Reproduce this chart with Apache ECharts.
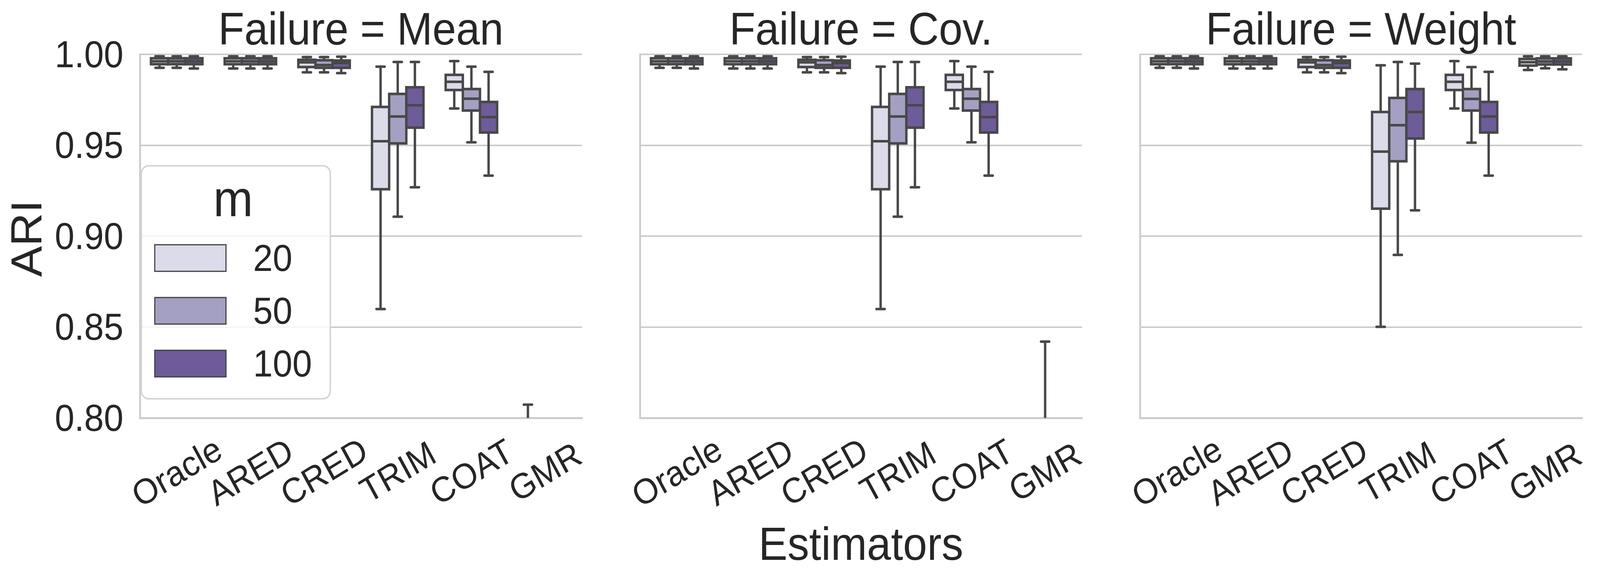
<!DOCTYPE html>
<html>
<head>
<meta charset="utf-8">
<script src="https://cdn.jsdelivr.net/npm/echarts@6.0.0/dist/echarts.min.js"></script>
<style>
  html, body { margin: 0; padding: 0; background: #ffffff; overflow: hidden; }
  #chart { position: absolute; left: 0; top: 0; width: 4358px; height: 1481px; transform-origin: 0 0; }
</style>
</head>
<body>
<div id="chart"></div>
<script>
// ---------------- data ----------------
const estimators = ['Oracle', 'ARED', 'CRED', 'TRIM', 'COAT', 'GMR'];
const mLevels = ['20', '50', '100'];
const failureTypes = ['Mean', 'Cov.', 'Weight'];
const yTickValues = [0.80, 0.85, 0.90, 0.95, 1.00];

// box statistics per estimator: [low whisker, Q1, median, Q3, high whisker]
// null = below the visible range (0.80); whole null = box not visible
const mean_m20 = [
  [0.9926, 0.99456, 0.9962, 0.99785, 0.9989],
  [0.9922, 0.99456, 0.9962, 0.99785, 0.9989],
  [0.9901, 0.9930, 0.9956, 0.9970, 0.9985],
  [0.8599, 0.9258, 0.9522, 0.9711, 0.9932],
  [0.9702, 0.9804, 0.9849, 0.9887, 0.9963],
  [null, null, null, null, 0.8073]
];
const mean_m50 = [
  [0.9926, 0.99456, 0.9962, 0.99785, 0.9989],
  [0.9922, 0.99456, 0.9962, 0.99785, 0.9989],
  [0.9901, 0.9926, 0.9941, 0.9968, 0.9985],
  [0.9107, 0.9510, 0.9658, 0.9782, 0.9958],
  [0.9516, 0.9691, 0.9756, 0.9809, 0.9932],
  null
];
const mean_m100 = [
  [0.9922, 0.99456, 0.9962, 0.99785, 0.9989],
  [0.9922, 0.99456, 0.9962, 0.99785, 0.9989],
  [0.9897, 0.9926, 0.9952, 0.9966, 0.9987],
  [0.9269, 0.9597, 0.9720, 0.9819, 0.9958],
  [0.9333, 0.9570, 0.9655, 0.9738, 0.9904],
  null
];
const cov_m20 = [
  [0.9926, 0.99456, 0.9962, 0.99785, 0.9989],
  [0.9922, 0.99456, 0.9962, 0.99785, 0.9989],
  [0.9901, 0.9930, 0.9956, 0.9970, 0.9985],
  [0.8599, 0.9258, 0.9522, 0.9711, 0.9932],
  [0.9702, 0.9804, 0.9849, 0.9887, 0.9963],
  null
];
const cov_m50 = [
  [0.9926, 0.99456, 0.9962, 0.99785, 0.9989],
  [0.9922, 0.99456, 0.9962, 0.99785, 0.9989],
  [0.9901, 0.9926, 0.9941, 0.9968, 0.9985],
  [0.9107, 0.9510, 0.9658, 0.9782, 0.9958],
  [0.9516, 0.9691, 0.9756, 0.9809, 0.9932],
  [null, null, null, null, 0.8420]
];
const cov_m100 = [
  [0.9922, 0.99456, 0.9962, 0.99785, 0.9989],
  [0.9922, 0.99456, 0.9962, 0.99785, 0.9989],
  [0.9897, 0.9926, 0.9952, 0.9966, 0.9987],
  [0.9269, 0.9597, 0.9720, 0.9819, 0.9958],
  [0.9333, 0.9570, 0.9655, 0.9738, 0.9904],
  null
];
const weight_m20 = [
  [0.9926, 0.99456, 0.9962, 0.99785, 0.9989],
  [0.9922, 0.99456, 0.9962, 0.99785, 0.9989],
  [0.9901, 0.9930, 0.9956, 0.9970, 0.9985],
  [0.8501, 0.9151, 0.9465, 0.9683, 0.9940],
  [0.9702, 0.9804, 0.9849, 0.9887, 0.9963],
  [0.9914, 0.9938, 0.9957, 0.9975, 0.9989]
];
const weight_m50 = [
  [0.9926, 0.99456, 0.9962, 0.99785, 0.9989],
  [0.9922, 0.99456, 0.9962, 0.99785, 0.9989],
  [0.9901, 0.9926, 0.9941, 0.9968, 0.9985],
  [0.8897, 0.9412, 0.9610, 0.9760, 0.9958],
  [0.9514, 0.9691, 0.9755, 0.9809, 0.9930],
  [0.9923, 0.9944, 0.9961, 0.9978, 0.9989]
];
const weight_m100 = [
  [0.9922, 0.99456, 0.9962, 0.99785, 0.9989],
  [0.9922, 0.99456, 0.9962, 0.99785, 0.9989],
  [0.9897, 0.9926, 0.9952, 0.9966, 0.9987],
  [0.9142, 0.9537, 0.9683, 0.9809, 0.9949],
  [0.9333, 0.9570, 0.9658, 0.9738, 0.9904],
  [0.9918, 0.9944, 0.9961, 0.9978, 0.9989]
];
const panelStats = [
  [mean_m20, mean_m50, mean_m100],
  [cov_m20, cov_m50, cov_m100],
  [weight_m20, weight_m50, weight_m100]
];

// ---------------- layout: drawn at 4358 x 1481, fitted to the actual viewport ----------------
const BASE_W = 4358, BASE_H = 1481;
const VW = window.innerWidth || BASE_W;
const VH = window.innerHeight || BASE_H;
const el = document.getElementById('chart');
if (VW !== BASE_W || VH !== BASE_H) {
  el.style.transform = 'scale(' + (VW / BASE_W) + ',' + (VH / BASE_H) + ')';
}

const FONT = "'Liberation Sans', Arial, Helvetica, sans-serif";
const TEXT = '#262626';
const HUE_COLORS = ['#dbdbea', '#a3a0c3', '#6e5b99'];
const EDGE = '#484848';
const LW = 6.5;
const BOX_FRAC = 0.233;
const GRID_LEFTS = [381, 1743, 3105];
const GRID_TOP = 139;
const GRID_W = 1204;
const GRID_H = 930;

function makeRenderer(hueIdx) {
  return function (params, api) {
    const cat = api.value(0);
    const band = api.size([1, 0])[0];
    const w = band * BOX_FRAC;
    const cx = api.coord([cat, 0.9])[0] + (hueIdx - 1) * band * BOX_FRAC;
    const cs = params.coordSys;
    const bottom = cs.y + cs.height + 20;
    const yv = function (i) {
      const v = api.value(i);
      return (v === null || isNaN(v)) ? null : api.coord([cat, v])[1];
    };
    const low = yv(1), q1 = yv(2), med = yv(3), q3 = yv(4), high = yv(5);
    const capHalf = w * 0.24;
    const fill = HUE_COLORS[hueIdx];
    const children = [];
    const lineStyle = { stroke: EDGE, lineWidth: LW, fill: null };
    const capStyle = { stroke: EDGE, lineWidth: LW, lineCap: 'round', fill: null };
    if (high !== null) {
      children.push({ type: 'line', shape: { x1: cx, y1: high, x2: cx, y2: q3 !== null ? q3 : bottom }, style: lineStyle });
    }
    if (q1 !== null) {
      children.push({ type: 'line', shape: { x1: cx, y1: q1, x2: cx, y2: low !== null ? low : bottom }, style: lineStyle });
    }
    if (q1 !== null && q3 !== null) {
      children.push({ type: 'rect', shape: { x: cx - w / 2, y: q3, width: w, height: q1 - q3 },
        style: { fill: fill, stroke: EDGE, lineWidth: LW } });
      if (med !== null) {
        children.push({ type: 'line', shape: { x1: cx - w / 2, y1: med, x2: cx + w / 2, y2: med }, style: lineStyle });
      }
    }
    if (high !== null) {
      children.push({ type: 'line', shape: { x1: cx - capHalf, y1: high, x2: cx + capHalf, y2: high }, style: capStyle });
    }
    if (low !== null) {
      children.push({ type: 'line', shape: { x1: cx - capHalf, y1: low, x2: cx + capHalf, y2: low }, style: capStyle });
    }
    return { type: 'group', children: children };
  };
}

const grids = [], xAxes = [], yAxes = [], series = [];
for (let p = 0; p < 3; p++) {
  grids.push({ left: GRID_LEFTS[p], top: GRID_TOP, width: GRID_W, height: GRID_H,
    containLabel: false, outerBoundsMode: 'none' });
  xAxes.push({
    gridIndex: p, type: 'category', data: estimators, boundaryGap: true,
    axisLine: { show: true, onZero: false, lineStyle: { color: '#cccccc', width: 5 } },
    axisTick: { show: false },
    axisLabel: { interval: 0, rotate: 30, align: 'center', verticalAlign: 'middle', margin: 138,
      fontSize: 90, color: TEXT, fontFamily: FONT, hideOverlap: false },
    splitLine: { show: false }
  });
  yAxes.push({
    gridIndex: p, type: 'value', min: yTickValues[0], max: yTickValues[yTickValues.length - 1], interval: 0.05,
    axisLine: { show: true, lineStyle: { color: '#cccccc', width: 5 } },
    axisTick: { show: false },
    axisLabel: { show: p === 0, margin: 45, fontSize: 96, color: TEXT, fontFamily: FONT,
      formatter: function (v) { return Number(v).toFixed(2); } },
    splitLine: { show: true, lineStyle: { color: '#cccccc', width: 4 } }
  });
  for (let h = 0; h < 3; h++) {
    const stats = panelStats[p][h];
    const items = [];
    stats.forEach(function (s, i) {
      if (s) items.push([i].concat(s.map(function (v) { return v === null ? '-' : v; })));
    });
    series.push({
      type: 'custom', name: mLevels[h], xAxisIndex: p, yAxisIndex: p,
      renderItem: makeRenderer(h), clip: true,
      itemStyle: { color: HUE_COLORS[h] },
      encode: { x: 0, y: [1, 2, 3, 4, 5] },
      data: items, z: 3, silent: true
    });
  }
}

const graphics = [];
failureTypes.forEach(function (f, p) {
  graphics.push({ type: 'text', x: GRID_LEFTS[p] + GRID_W / 2, y: 74, z: 100,
    style: { text: 'Failure = ' + f, fontSize: 116, fontFamily: FONT, fill: TEXT, align: 'center', verticalAlign: 'middle' } });
});
graphics.push({ type: 'text', x: 72, y: 610, rotation: Math.PI / 2, z: 100,
  style: { text: 'ARI', fontSize: 118, fontFamily: FONT, fill: TEXT, align: 'center', verticalAlign: 'middle' } });
graphics.push({ type: 'text', x: 2345, y: 1391, z: 100,
  style: { text: 'Estimators', fontSize: 118, fontFamily: FONT, fill: TEXT, align: 'center', verticalAlign: 'middle' } });
graphics.push({ type: 'text', x: 635, y: 508, z: 100,
  style: { text: 'm', fontSize: 130, fontFamily: FONT, fill: TEXT, align: 'center', verticalAlign: 'middle' } });

const chart = echarts.init(el, null, { renderer: 'svg', width: BASE_W, height: BASE_H });
chart.setOption({
  animation: false,
  backgroundColor: '#ffffff',
  textStyle: { fontFamily: FONT },
  grid: grids,
  xAxis: xAxes,
  yAxis: yAxes,
  series: series,
  legend: {
    data: mLevels, orient: 'vertical', left: 385, top: 424,
    padding: [188, 50, 42, 35],
    itemWidth: 194, itemHeight: 68, itemGap: 39, icon: 'rect',
    itemStyle: { borderColor: '#3f3f3f', borderWidth: 3 },
    textStyle: { fontSize: 96, color: TEXT, fontFamily: FONT, padding: [0, 0, 0, 69], lineHeight: 96 },
    backgroundColor: 'rgba(255,255,255,0.8)', borderColor: '#d4d4d4', borderWidth: 4, borderRadius: 20,
    selectedMode: false, z: 20
  },
  graphic: graphics
});
</script>
</body>
</html>
